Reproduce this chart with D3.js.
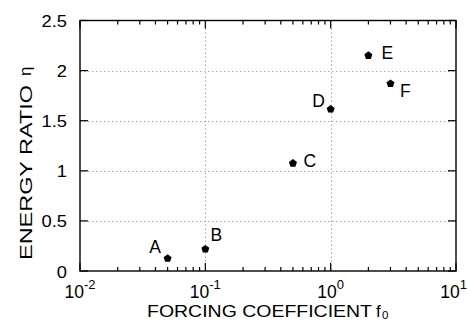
<!DOCTYPE html>
<html><head><meta charset="utf-8">
<script src="https://cdn.jsdelivr.net/npm/d3@7"></script>
<style>body{margin:0;background:#fff}svg{display:block}text{font-family:"Liberation Sans",Arial,sans-serif;fill:#000}</style>
</head><body>
<svg id="c" width="468" height="321"></svg>
<script>
const labels = ["A","B","C","D","E","F"];
const forcing = [0.05, 0.1, 0.5, 1.0, 2.0, 3.0];
const energyRatio = [0.125, 0.218, 1.075, 1.615, 2.15, 1.87];
const labelDx = [-12.5, 11, 17, -12, 19, 15];
const labelDy = [-5, -8, 4, -2, 3, 13.5];
const xDecades = [-2, -1, 0, 1];
const yTicks = [0, 0.5, 1, 1.5, 2, 2.5];
const yGrid = [0.5, 1, 1.5, 2];
const xGrid = [0.1, 1];

const svg = d3.select("#c");
const L = 80, R = 456, T = 20.5, B = 271;
const x = d3.scaleLog().domain([0.01, 10]).range([L, R]);
const y = d3.scaleLinear().domain([0, 2.5]).range([B, T]);

const g = svg.append("g");
// grid
g.selectAll(".hg").data(yGrid).join("line")
  .attr("x1", L).attr("x2", R).attr("y1", d => Math.round(y(d)) + 0.5).attr("y2", d => Math.round(y(d)) + 0.5)
  .attr("stroke", "#aaa").attr("stroke-width", 1).attr("stroke-dasharray", "1.5,2.5");
g.selectAll(".vg").data(xGrid).join("line")
  .attr("y1", T).attr("y2", B).attr("x1", d => Math.round(x(d)) + 0.5).attr("x2", d => Math.round(x(d)) + 0.5)
  .attr("stroke", "#aaa").attr("stroke-width", 1).attr("stroke-dasharray", "1.5,2.5");

// ticks
const majorX = xDecades.map(e => Math.pow(10, e));
const minorX = [];
xDecades.slice(0, -1).forEach(e => { for (let k = 2; k <= 9; k++) minorX.push(k * Math.pow(10, e)); });
const tk = g.append("g").attr("stroke", "#000").attr("stroke-width", 1.2);
majorX.forEach(v => {
  const px = x(v);
  tk.append("line").attr("x1", px).attr("x2", px).attr("y1", B).attr("y2", B - 8);
  tk.append("line").attr("x1", px).attr("x2", px).attr("y1", T).attr("y2", T + 8);
});
minorX.forEach(v => {
  const px = x(v);
  tk.append("line").attr("x1", px).attr("x2", px).attr("y1", B).attr("y2", B - 4);
  tk.append("line").attr("x1", px).attr("x2", px).attr("y1", T).attr("y2", T + 4);
});
yTicks.forEach(v => {
  const py = y(v);
  tk.append("line").attr("x1", L).attr("x2", L + 8).attr("y1", py).attr("y2", py);
  tk.append("line").attr("x1", R).attr("x2", R - 8).attr("y1", py).attr("y2", py);
});

// frame
g.append("rect").attr("x", L).attr("y", T).attr("width", R - L).attr("height", B - T)
  .attr("fill", "none").attr("stroke", "#000").attr("stroke-width", 1.4);

// y tick labels
g.selectAll(".yl").data(yTicks).join("text")
  .attr("transform", d => `translate(67,${y(d) + 6.5}) scale(1.08,1)`)
  .attr("text-anchor", "end").attr("font-size", 17).text(d => String(d));

// x tick labels
xDecades.forEach(e => {
  const t = g.append("text").attr("y", 298).attr("text-anchor", "start").attr("font-size", 17.5);
  t.append("tspan").text("10");
  t.append("tspan").attr("dy", -9).attr("font-size", 13).text(String(e));
  const w = t.node().getComputedTextLength();
  let cx = x(Math.pow(10, e));
  if (cx + w / 2 > 467) cx = 467 - w / 2;
  t.attr("x", cx - w / 2);
});

// titles
g.append("text").attr("x", 147).attr("y", 317).attr("font-size", 17)
  .attr("textLength", 225).attr("lengthAdjust", "spacingAndGlyphs").text("FORCING COEFFICIENT");
g.append("text").attr("x", 376).attr("y", 317).attr("font-size", 17).text("f");
g.append("text").attr("x", 382).attr("y", 318.5).attr("font-size", 11.5).text("0");
g.append("text").attr("transform", "translate(32,260) rotate(-90)").attr("font-size", 17)
  .attr("textLength", 175).attr("lengthAdjust", "spacingAndGlyphs").text("ENERGY RATIO");
g.append("text").attr("transform", "translate(31,76) rotate(-90)").attr("font-size", 17).text("η");

// points
const pent = r => d3.range(5).map(i => {
  const a = -Math.PI / 2 + i * 2 * Math.PI / 5;
  return [r * Math.cos(a), r * Math.sin(a)];
});
const pentPath = "M" + pent(4.2).map(p => p.join(",")).join("L") + "Z";
const pts = forcing.map((f, i) => ({ f, e: energyRatio[i], l: labels[i], dx: labelDx[i], dy: labelDy[i] }));
g.selectAll(".pt").data(pts).join("path")
  .attr("d", pentPath).attr("transform", d => `translate(${x(d.f)},${y(d.e)})`).attr("fill", "#000");
g.selectAll(".pl").data(pts).join("text")
  .attr("x", d => x(d.f) + d.dx).attr("y", d => y(d.e) + d.dy)
  .attr("text-anchor", "middle").attr("font-size", 17.5).text(d => d.l);
</script>
</body></html>
